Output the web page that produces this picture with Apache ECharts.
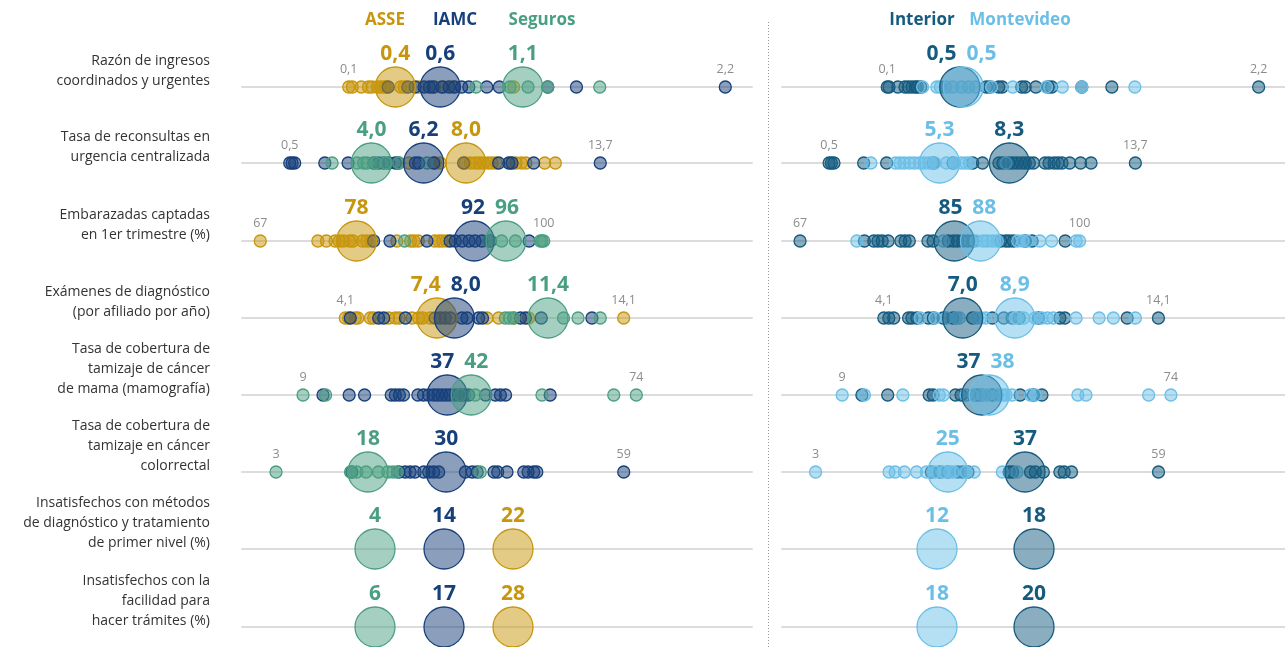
<!DOCTYPE html>
<html>
<head>
<meta charset="utf-8">
<title>Indicadores por prestador</title>
<script src="https://cdn.jsdelivr.net/npm/echarts@6.0.0/dist/echarts.min.js"></script>
<style>
  html, body { margin: 0; padding: 0; background: #fff; }
  #chart { width: 1285px; height: 647px; }
</style>
</head>
<body>
<div id="chart"></div>
<script>
// filas (indicadores)
const rowLabels = [
  'Razón de ingresos\ncoordinados y urgentes',
  'Tasa de reconsultas en\nurgencia centralizada',
  'Embarazadas captadas\nen 1er trimestre (%)',
  'Exámenes de diagnóstico\n(por afiliado por año)',
  'Tasa de cobertura de\ntamizaje de cáncer\nde mama (mamografía)',
  'Tasa de cobertura de\ntamizaje en cáncer\ncolorrectal',
  'Insatisfechos con métodos\nde diagnóstico y tratamiento\nde primer nivel (%)',
  'Insatisfechos con la\nfacilidad para\nhacer trámites (%)'
]
const rowDecimals = [1, 1, 0, 1, 0, 0, 0, 0]
const rowMin = [0.1, 0.5, 67, 4.1, 9, 3]
const rowMax = [2.2, 13.7, 100, 14.1, 74, 59]

// cada prestador, por fila (filas 1 a 6)
const asseDots = [
  [0.1, 0.12, 0.17, 0.21, 0.23, 0.26, 0.28, 0.30, 0.31, 0.39, 0.41, 0.49, 0.58, 0.63, 0.68, 1.02],
  [5.56, 6.69, 6.9, 7.96, 8.18, 8.39, 8.56, 8.74, 8.93, 9.1, 9.27, 9.88, 10.12, 10.34, 10.54, 11.34, 11.79],
  [67, 73.7, 74.7, 75.7, 76.2, 76.7, 77.4, 77.8, 78.9, 79.4, 79.9, 82.9, 84.5, 84.9, 85.4, 87.3, 87.8, 88.2, 88.7],
  [4.1, 4.22, 4.46, 4.55, 5.0, 5.12, 5.66, 5.9, 6.04, 6.5, 6.73, 6.88, 7.15, 9.19, 9.61, 10.15, 10.69, 14.1],
  [],
  []
]
const iamcDots = [
  [0.32, 0.43, 0.47, 0.52, 0.55, 0.57, 0.62, 0.66, 0.69, 0.73, 0.77, 0.87, 0.94, 1.21, 1.37, 2.2],
  [0.5, 0.6, 0.71, 1.99, 2.98, 4.07, 4.28, 4.49, 4.71, 4.99, 5.13, 5.84, 5.98, 6.62, 7.89, 9.38, 9.81, 9.95, 10.87, 13.7],
  [80.2, 82.1, 86.4, 89.1, 89.7, 90.5, 91.3, 92.0, 92.8, 93.8, 98.3],
  [4.28, 5.3, 5.48, 6.26, 7.33, 7.51, 7.69, 7.87, 8.29, 8.47, 8.89, 9.03, 10.39, 10.57, 11.14, 12.96],
  [12.9, 18.0, 21.0, 26.2, 27.0, 27.8, 28.6, 31.4, 32.5, 33.5, 34.5, 35.3, 36.1, 36.9, 37.7, 38.7, 39.7, 40.5, 41.3, 44.6, 46.5, 47.5, 48.5, 57.2],
  [15.2, 22.8, 23.8, 24.6, 25.4, 26.8, 27.6, 28.4, 29.2, 33.5, 34.6, 35.4, 38.1, 38.7, 40.2, 42.9, 43.6, 44.5, 45.0, 59]
]
const segurosDots = [
  [0.81, 1.0, 1.1, 1.21, 1.5],
  [2.3, 3.36, 3.64, 3.79, 4.14, 4.57, 5.13, 6.34],
  [83.8, 93.6, 95.1, 96.7, 99.6, 99.8, 100],
  [9.85, 10.0, 10.15, 11.94, 12.46, 13.26],
  [9, 13.4, 39.7, 42.6, 55.6, 69.6, 74],
  [3, 15.0, 16.0, 17.5, 19.5, 21.0, 21.8, 22.5, 35.9]
]
const interiorDots = [
  [0.1, 0.11, 0.16, 0.2, 0.22, 0.24, 0.26, 0.27, 0.29, 0.66, 0.68, 0.73, 0.75, 0.86, 0.88, 0.94, 1.01, 1.03, 1.2, 1.37, 2.2],
  [0.5, 0.6, 0.71, 1.99, 2.98, 4.99, 5.84, 6.69, 7.11, 7.82, 7.99, 8.25, 8.42, 8.6, 8.79, 8.96, 9.13, 9.31, 9.81, 9.98, 10.2, 10.37, 10.54, 10.87, 11.34, 11.79, 13.7],
  [67, 74.6, 75.7, 76.2, 76.7, 77.4, 78.9, 79.4, 79.9, 82.1, 82.7, 84.5, 85.1, 85.6, 86.2, 86.8, 87.4, 90.7, 91.3, 91.7, 92.2, 93.6, 94.4, 98.3],
  [4.1, 4.28, 4.46, 5.0, 5.12, 5.3, 5.72, 5.9, 6.26, 6.61, 7.33, 8.05, 8.47, 8.77, 9.03, 9.73, 10.51, 10.69, 12.96, 14.1],
  [12.9, 18.0, 26.2, 27.0, 31.4, 32.5, 35.5, 36.4, 38.7, 44.2, 46.8, 48.5],
  [21.9, 23.3, 24.6, 26.2, 27.0, 27.9, 34.6, 35.2, 38.1, 38.9, 40.2, 42.9, 43.6, 44.8, 59]
]
const montevideoDots = [
  [0.3, 0.38, 0.4, 0.43, 0.47, 0.52, 0.56, 0.6, 0.69, 0.81, 1.0, 1.09, 1.2, 1.5],
  [2.3, 3.36, 3.55, 3.74, 3.97, 4.17, 4.4, 4.59, 4.82, 5.06, 5.56, 5.91, 6.19, 6.38, 6.55, 8.13],
  [73.7, 83.9, 87.8, 88.6, 89.1, 89.7, 90.3, 92.7, 93.3, 93.8, 95.3, 96.7, 99.6, 100],
  [5.42, 5.96, 6.38, 6.73, 6.85, 7.45, 7.63, 7.81, 8.89, 9.19, 9.61, 9.85, 10.06, 10.27, 11.1, 11.94, 12.46, 13.26],
  [9, 13.4, 21.0, 28.2, 29.0, 33.5, 34.8, 36.8, 37.7, 39.7, 40.7, 41.4, 42.6, 46.2, 47.2, 55.6, 57.2, 69.6, 74],
  [3, 15.0, 16.0, 17.5, 19.5, 21.1, 22.5, 23.8, 24.9, 25.5, 27.6, 28.9, 33.5, 35.9]
]

// promedios por grupo (8 filas)
const asseAvg = [0.36, 7.99, 78.2, 7.39, null, null, 22, 28]
const iamcAvg = [0.61, 6.19, 91.9, 8.02, 37.1, 30.4, 14, 17]
const segurosAvg = [1.07, 3.97, 95.6, 11.38, 41.8, 17.8, 4, 6]
const interiorAvg = [0.51, 8.27, 85.2, 6.97, 36.6, 37.2, 18, 20]
const montevideoAvg = [0.53, 5.26, 88.3, 8.87, 38.1, 24.6, 12, 18]

// ---- layout ----
const rowY = [87, 163, 241, 318, 395, 472, 549, 627]
const axisRange = [
  [-0.495, 2.349],
  [-1.53, 20.15],
  [64.87, 124.25],
  [0.39, 18.71],
  [-2.9, 96.56],
  [-2.48, 79.66]
]
const panelLeft = [242, 782]
const panelWidth = 510
// filas de encuesta: posiciones fijas por grupo
const catLeft = [340.5, 888.5]
const catWidth = [207, 194]
const FONT = '"Open Sans", "Noto Sans", sans-serif'

const groups = [
  { name: 'ASSE', panel: 0, color: '#c8960c', dots: asseDots, avg: asseAvg },
  { name: 'IAMC', panel: 0, color: '#17407b', dots: iamcDots, avg: iamcAvg },
  { name: 'Seguros', panel: 0, color: '#4b9f81', dots: segurosDots, avg: segurosAvg },
  { name: 'Interior', panel: 1, color: '#155b7f', dots: interiorDots, avg: interiorAvg },
  { name: 'Montevideo', panel: 1, color: '#6bbfe7', dots: montevideoDots, avg: montevideoAvg }
]
const catOrder = [['Seguros', 'IAMC', 'ASSE'], ['Montevideo', 'Interior']]

function fade(hex, a) {
  const n = parseInt(hex.slice(1), 16)
  return 'rgba(' + (n >> 16) + ',' + ((n >> 8) & 255) + ',' + (n & 255) + ',' + a + ')'
}
function fmt(v, d) {
  return v.toFixed(d).replace('.', ',')
}

const measureCtx = document.createElement('canvas').getContext('2d')
measureCtx.font = 'bold 21px ' + FONT
function textWidth(s) {
  return measureCtx.measureText(s).width
}

const grids = []
const xAxes = []
const yAxes = []
const series = []

function addGrid(left, width, y, xAxis) {
  const idx = grids.length
  grids.push({ left: left, width: width, top: y - 20, height: 40 })
  xAxes.push(Object.assign({
    gridIndex: idx,
    axisLabel: { show: false },
    axisTick: { show: false },
    splitLine: { show: false },
    axisLine: { show: true, onZero: true, lineStyle: { color: '#dcdcdc', width: 2 } }
  }, xAxis))
  yAxes.push({ gridIndex: idx, type: 'value', min: -1, max: 1, show: false })
  return idx
}

rowLabels.forEach((label, r) => {
  const dec = rowDecimals[r]
  for (let p = 0; p < 2; p++) {
    const gi = r < 6
      ? addGrid(panelLeft[p], panelWidth, rowY[r], { type: 'value', min: axisRange[r][0], max: axisRange[r][1] })
      : addGrid(panelLeft[p], panelWidth, rowY[r], { type: 'value', min: 0, max: 1 })
    const ci = r < 6 ? gi
      : addGrid(catLeft[p], catWidth[p], rowY[r], { type: 'category', data: catOrder[p], axisLine: { show: false } })

    const panelGroups = groups.filter(g => g.panel === p)

    // puntos individuales
    if (r < 6) {
      panelGroups.forEach(g => {
        if (!g.dots[r].length) return
        series.push({
          type: 'scatter',
          xAxisIndex: gi,
          yAxisIndex: gi,
          silent: true,
          z: 2,
          symbolSize: 12,
          itemStyle: { color: fade(g.color, 0.5), borderColor: g.color, borderWidth: 1.3, opacity: 1 },
          data: g.dots[r].map(v => [v, 0])
        })
      })
    }

    // promedios: separar etiquetas que se superponen
    const avgs = panelGroups.filter(g => g.avg[r] != null).map(g => {
      const text = fmt(g.avg[r], dec)
      let px = 0
      if (r < 6) {
        px = (g.avg[r] - axisRange[r][0]) / (axisRange[r][1] - axisRange[r][0]) * panelWidth
      }
      return { g: g, text: text, px: px, lx: px, w: textWidth(text) }
    })
    if (r < 6) {
      avgs.sort((a, b) => a.px - b.px)
      for (let it = 0; it < 10; it++) {
        for (let k = 0; k < avgs.length - 1; k++) {
          const a = avgs[k]
          const b = avgs[k + 1]
          const need = (a.w + b.w) / 2 + 10
          const gap = b.lx - a.lx
          if (gap < need) {
            a.lx -= (need - gap) / 2
            b.lx += (need - gap) / 2
          }
        }
      }
    }
    avgs.forEach(a => {
      series.push({
        type: 'scatter',
        xAxisIndex: ci,
        yAxisIndex: ci,
        silent: true,
        z: 3,
        symbolSize: 40,
        itemStyle: { color: fade(a.g.color, 0.5), borderColor: a.g.color, borderWidth: 1.3, opacity: 1 },
        label: {
          show: true,
          position: 'inside',
          offset: [a.lx - a.px, -33],
          formatter: a.text,
          color: a.g.color,
          opacity: 1,
          fontSize: 21,
          fontWeight: 'bold',
          fontFamily: FONT
        },
        data: [[r < 6 ? a.g.avg[r] : a.g.name, 0]]
      })
    })

    // mínimo y máximo
    if (r < 6) {
      series.push({
        type: 'scatter',
        xAxisIndex: gi,
        yAxisIndex: gi,
        silent: true,
        z: 4,
        symbolSize: 1,
        itemStyle: { color: 'rgba(0,0,0,0)' },
        label: {
          show: true,
          position: 'inside',
          offset: [0, -18],
          formatter: params => fmt(params.value[0], dec),
          color: '#8c8c8c',
          opacity: 1,
          fontSize: 12.5,
          fontFamily: FONT
        },
        data: [[rowMin[r], 0], [rowMax[r], 0]]
      })
    }
  }
})

// textos fijos: nombres de fila, encabezados, separador
const graphics = rowLabels.map((label, r) => ({
  type: 'text',
  x: 210,
  y: rowY[r] + 4,
  silent: true,
  style: {
    text: label,
    align: 'right',
    verticalAlign: 'bottom',
    lineHeight: 20,
    fontSize: 14,
    fontFamily: FONT,
    fill: '#333'
  }
}))
const headers = [
  { name: 'ASSE', x: 385 },
  { name: 'IAMC', x: 455 },
  { name: 'Seguros', x: 542 },
  { name: 'Interior', x: 922 },
  { name: 'Montevideo', x: 1020 }
]
headers.forEach(h => {
  const g = groups.find(item => item.name === h.name)
  graphics.push({
    type: 'text',
    x: h.x,
    y: 20,
    silent: true,
    style: {
      text: h.name,
      align: 'center',
      verticalAlign: 'middle',
      fontSize: 17,
      fontWeight: 'bold',
      fontFamily: FONT,
      fill: g.color
    }
  })
})
graphics.push({
  type: 'line',
  silent: true,
  shape: { x1: 768.5, y1: 22, x2: 768.5, y2: 647 },
  style: { stroke: '#999', lineWidth: 1, lineDash: [1, 2] }
})

const chart = echarts.init(document.getElementById('chart'))
chart.setOption({
  animation: false,
  grid: grids,
  xAxis: xAxes,
  yAxis: yAxes,
  series: series,
  graphic: graphics
})
</script>
</body>
</html>
